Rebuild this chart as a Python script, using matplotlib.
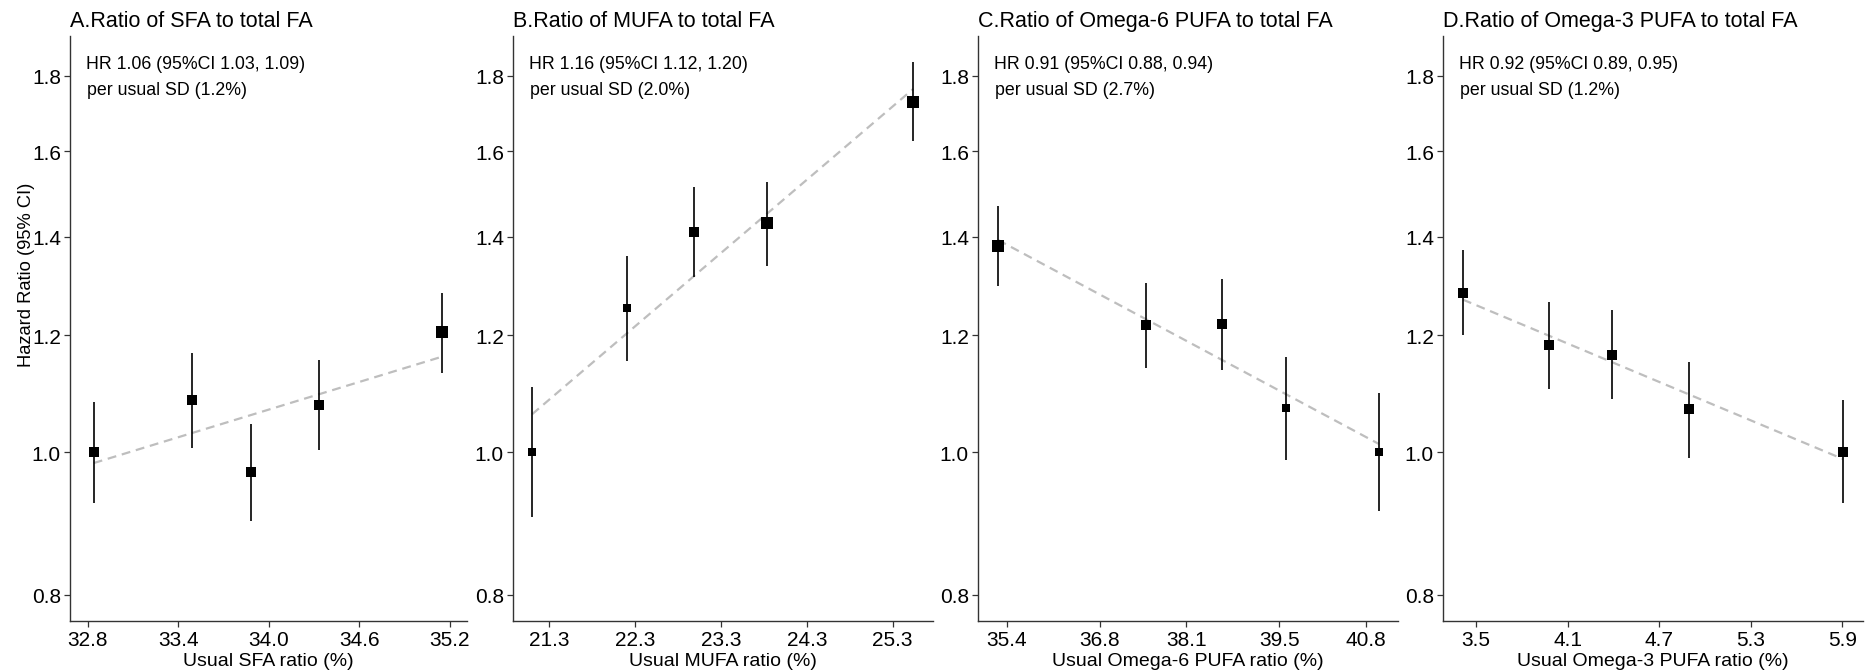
import matplotlib
matplotlib.use("Agg")
import matplotlib.pyplot as plt
import numpy as np
from matplotlib.ticker import FixedLocator, NullLocator

plt.rcParams['font.family'] = ['Liberation Sans', 'DejaVu Sans']

titles = ["A.Ratio of SFA to total FA", "B.Ratio of MUFA to total FA",
          "C.Ratio of Omega-6 PUFA to total FA", "D.Ratio of Omega-3 PUFA to total FA"]
xlabels = ["Usual SFA ratio (%)", "Usual MUFA ratio (%)",
           "Usual Omega-6 PUFA ratio (%)", "Usual Omega-3 PUFA ratio (%)"]
hr_text = ["HR 1.06 (95%CI 1.03, 1.09)", "HR 1.16 (95%CI 1.12, 1.20)",
           "HR 0.91 (95%CI 0.88, 0.94)", "HR 0.92 (95%CI 0.89, 0.95)"]
sd_text = ["per usual SD (1.2%)", "per usual SD (2.0%)",
           "per usual SD (2.7%)", "per usual SD (1.2%)"]

# A. SFA
sfa_x = [32.84, 33.49, 33.88, 34.33, 35.15]
sfa_hr = [1.000, 1.085, 0.969, 1.076, 1.206]
sfa_lo = [0.924, 1.007, 0.898, 1.003, 1.132]
sfa_hi = [1.082, 1.167, 1.045, 1.154, 1.283]
sfa_trend = [0.983, 1.161]
sfa_ticks = ["32.8", "33.4", "34.0", "34.6", "35.2"]

# B. MUFA
mufa_x = [21.10, 22.21, 22.99, 23.84, 25.54]
mufa_hr = [1.000, 1.252, 1.410, 1.430, 1.729]
mufa_lo = [0.903, 1.153, 1.314, 1.337, 1.626]
mufa_hi = [1.107, 1.358, 1.514, 1.526, 1.840]
mufa_trend = [1.061, 1.764]
mufa_ticks = ["21.3", "22.3", "23.3", "24.3", "25.3"]

# C. Omega-6 PUFA
n6_x = [35.27, 37.50, 38.64, 39.60, 40.99]
n6_hr = [1.380, 1.219, 1.221, 1.071, 1.000]
n6_lo = [1.297, 1.140, 1.137, 0.987, 0.912]
n6_hi = [1.468, 1.303, 1.311, 1.161, 1.096]
n6_trend = [1.393, 1.013]
n6_ticks = ["35.4", "36.8", "38.1", "39.5", "40.8"]

# D. Omega-3 PUFA
n3_x = [3.415, 3.978, 4.393, 4.896, 5.907]
n3_hr = [1.283, 1.182, 1.164, 1.069, 1.000]
n3_lo = [1.201, 1.103, 1.086, 0.991, 0.923]
n3_hi = [1.372, 1.265, 1.248, 1.152, 1.084]
n3_trend = [1.269, 0.989]
n3_ticks = ["3.5", "4.1", "4.7", "5.3", "5.9"]

y_ticks = [0.8, 1.0, 1.2, 1.4, 1.6, 1.8]

panels = [
    (sfa_x, sfa_hr, sfa_lo, sfa_hi, sfa_trend, sfa_ticks, (32.683, 35.313)),
    (mufa_x, mufa_hr, mufa_lo, mufa_hi, mufa_trend, mufa_ticks, (20.877, 25.770)),
    (n6_x, n6_hr, n6_lo, n6_hi, n6_trend, n6_ticks, (34.969, 41.281)),
    (n3_x, n3_hr, n3_lo, n3_hi, n3_trend, n3_ticks, (3.284, 6.036)),
]

W, H = 1868, 671
fig = plt.figure(figsize=(18.68, 6.7099), dpi=100)

# axes boxes in pixels: left, right
boxes = [(70, 467), (513, 933), (978, 1398), (1443, 1863)]
top_px, bot_px = 37, 622

for i, (x, hr, lo, hi, trend, ticks, xlim) in enumerate(panels):
    l, r = boxes[i]
    ax = fig.add_axes([l / W, 1 - bot_px / H, (r - l) / W, (bot_px - top_px) / H])
    ax.set_yscale('log')
    ax.set_ylim(0.768, 1.916)
    ax.set_xlim(*xlim)

    x = np.array(x)
    hr = np.array(hr)
    lo = np.array(lo)
    hi = np.array(hi)

    # trend line (fitted, straight on log scale)
    ax.plot([x[0], x[-1]], trend, color='#BEBEBE', lw=1.6, dashes=(4, 2.6), zorder=1)
    ax.vlines(x, lo, hi, color='black', lw=1.2, zorder=2)
    # marker size ~ inverse of CI width
    ms = 1.05 / np.log(hi / lo)
    for xi, yi, mi in zip(x, hr, ms):
        ax.plot(xi, yi, marker='s', ms=mi, color='black', mec='black', mew=0, zorder=3)

    ax.yaxis.set_major_locator(FixedLocator(y_ticks))
    ax.yaxis.set_minor_locator(NullLocator())
    ax.set_yticklabels([f"{v:.1f}" for v in y_ticks])
    ax.set_xticks([float(t) for t in ticks])
    ax.set_xticklabels(ticks)
    ax.tick_params(axis='both', labelsize=15, length=4, width=0.9, color='#333333',
                   labelcolor='black', pad=2.5)
    for s in ['top', 'right']:
        ax.spines[s].set_visible(False)
    for s in ['left', 'bottom']:
        ax.spines[s].set_color('#333333')
        ax.spines[s].set_linewidth(1.0)

    ax.set_title(titles[i], loc='left', fontsize=15.5, pad=7)
    ax.set_xlabel(xlabels[i], fontsize=14, labelpad=2)
    ax.text(16 / (r - l), 1 - 19 / (bot_px - top_px), hr_text[i], transform=ax.transAxes,
            fontsize=12.8, va='top', ha='left')
    ax.text(17 / (r - l), 1 - 45 / (bot_px - top_px), sd_text[i], transform=ax.transAxes,
            fontsize=12.8, va='top', ha='left')
    if i == 0:
        ax.set_ylabel("Hazard Ratio (95% CI)", fontsize=13.2)
        ax.yaxis.set_label_coords(-0.088, 0.593)

fig.savefig("out.png", dpi=100)
